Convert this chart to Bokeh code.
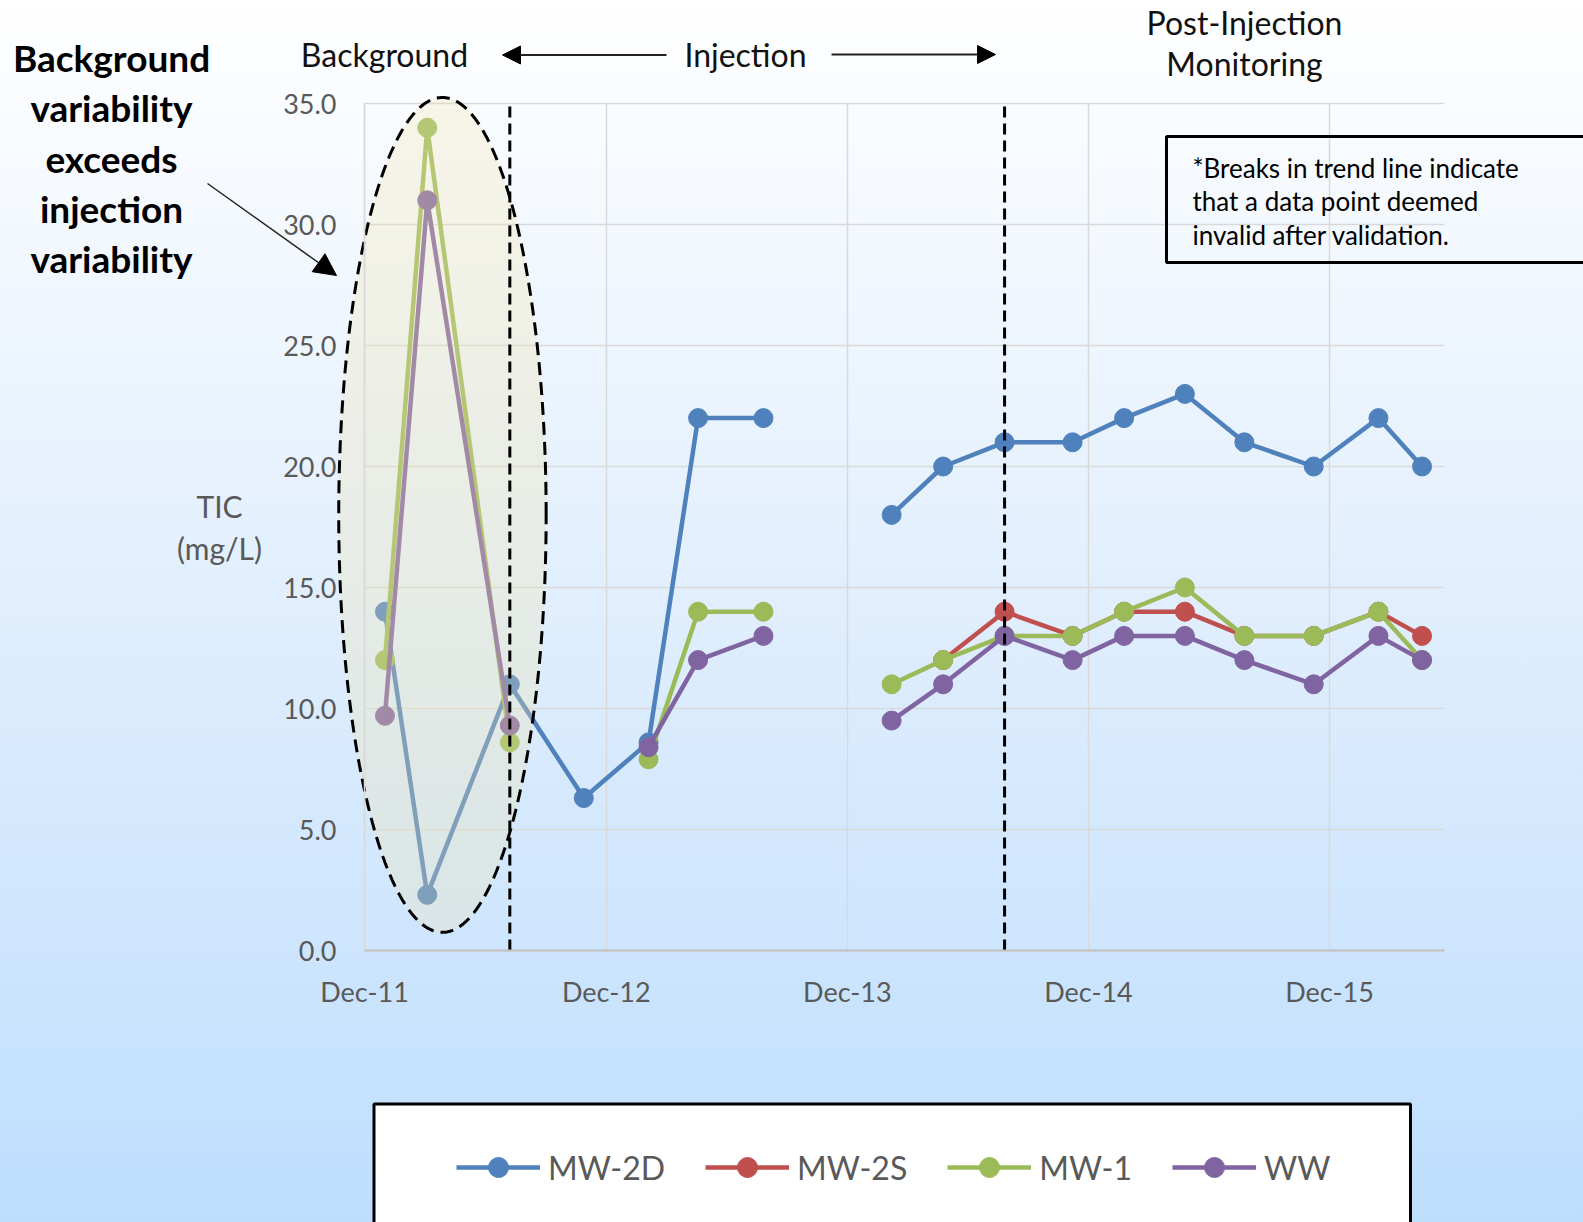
import numpy as np
from bokeh.plotting import figure
from bokeh.models import (FixedTicker, DatetimeTickFormatter, NumeralTickFormatter, Label, Arrow,
                          NormalHead, BoxAnnotation, Legend, LegendItem, ColumnDataSource)
from bokeh.embed import file_html
from bokeh.resources import INLINE

nan = np.nan

# Sampling events (the Nov-2013 event was invalidated, which breaks every trend line)
sample_dates = ["2012-01-01", "2012-03-05", "2012-07-08", "2012-10-28", "2013-02-03",
                "2013-04-19", "2013-07-27", "2013-11-01", "2014-02-06", "2014-04-25",
                "2014-07-27", "2014-11-07", "2015-01-24", "2015-04-26", "2015-07-25",
                "2015-11-07", "2016-02-13", "2016-04-19"]

# TIC concentrations, mg/L
mw_2d = [14.0, 2.3, 11.0, 6.3, 8.6, 22.0, 22.0, nan, 18.0, 20.0, 21.0, 21.0, 22.0, 23.0, 21.0, 20.0, 22.0, 20.0]
mw_2s = [nan, nan, nan, nan, nan, nan, nan, nan, nan, 12.0, 14.0, 13.0, 14.0, 14.0, 13.0, 13.0, 14.0, 13.0]
mw_1 = [12.0, 34.0, 8.6, nan, 7.9, 14.0, 14.0, nan, 11.0, 12.0, 13.0, 13.0, 14.0, 15.0, 13.0, 13.0, 14.0, 12.0]
ww = [9.7, 31.0, 9.3, nan, 8.4, 12.0, 13.0, nan, 9.5, 11.0, 13.0, 12.0, 13.0, 13.0, 12.0, 11.0, 13.0, 12.0]

series_names = ["MW-2D", "MW-2S", "MW-1", "WW"]
series_values = [mw_2d, mw_2s, mw_1, ww]
series_colors = ["#4F81BD", "#C0504D", "#9BBB59", "#8064A2"]

x_tick_dates = ["2011-12-01", "2012-12-01", "2013-12-01", "2014-12-01", "2015-12-01"]
y_ticks = [0, 5, 10, 15, 20, 25, 30, 35]
phase_boundaries = ["2012-07-08", "2014-07-27"]   # start of injection, start of post-injection
x_start_date, x_end_date = "2011-12-01", "2016-05-23"
y_min, y_max = 0.0, 35.0

# background-variability ellipse: centre date, half-width (days), centre value, half-height
ell_center_date, ell_half_days, ell_center_val, ell_half_val = "2012-03-28", 157.0, 18.0, 17.25


def ms(d):
    return float((np.datetime64(d) - np.datetime64("1970-01-01")) / np.timedelta64(1, "ms"))


# page geometry: the plotting area sits at (FL, FT) with size FW x FH inside a W x H canvas
W, H = 1583, 1222
FL, FT, FW, FH = 364, 103, 1080, 847
X0, X1 = ms(x_start_date), ms(x_end_date)


def dx(px):
    return X0 + (px - FL) / FW * (X1 - X0)


def dy(py):
    return y_min + (y_max - y_min) * (FT + FH - py) / FH


FONT = "Lato"
GREY = "#595959"

p = figure(width=W, height=H, x_axis_type="datetime", output_backend="svg", toolbar_location=None,
           x_range=(dx(0), dx(W)), y_range=(dy(H), dy(0)), min_border=0)
p.styles = {"background": "linear-gradient(to bottom, #ffffff 0%, #e0eefd 50%, #bedefe 100%)"}
p.background_fill_color = None
p.border_fill_color = None
p.outline_line_color = None

# axes pinned to the plotting area
p.xaxis.fixed_location = y_min
p.yaxis.fixed_location = X0
p.xaxis.bounds = (X0, X1)
p.yaxis.bounds = (y_min, y_max)
p.xaxis.ticker = FixedTicker(ticks=[ms(d) for d in x_tick_dates])
p.xaxis.formatter = DatetimeTickFormatter(days="%b-%y", months="%b-%y", years="%b-%y")
p.yaxis.ticker = FixedTicker(ticks=y_ticks)
p.yaxis.formatter = NumeralTickFormatter(format="0.0")
for ax in (p.xaxis[0], p.yaxis[0]):
    ax.major_tick_line_color = None
    ax.minor_tick_line_color = None
    ax.major_tick_in = 0
    ax.major_tick_out = 0
    ax.major_label_text_font = FONT
    ax.major_label_text_font_size = "27px"
    ax.major_label_text_color = GREY
p.xaxis.major_label_standoff = 24
p.yaxis.major_label_standoff = 28
p.xaxis.axis_line_color = "#bfbfbf"
p.xaxis.axis_line_width = 2
p.yaxis.axis_line_color = "#d9d9d9"
p.yaxis.axis_line_width = 1.5
p.grid.grid_line_color = "#d9d9d9"
p.grid.grid_line_width = 1.5
p.xgrid.bounds = (X0, X1)
p.xgrid.cross_bounds = (y_min, y_max)
p.ygrid.bounds = (y_min, y_max)
p.ygrid.cross_bounds = (X0, X1)

# series
src = ColumnDataSource({"date": [ms(d) for d in sample_dates],
                        **{n: np.array(v, dtype=float) for n, v in zip(series_names, series_values)}})
items = []
for name, color in zip(series_names, series_colors):
    lr = p.line("date", name, source=src, line_color=color, line_width=4.5)
    sr = p.scatter("date", name, source=src, size=19, fill_color=color, line_color=color)
    items.append(LegendItem(label=name, renderers=[lr, sr]))

# background-variability ellipse (washes over the early samples)
t = np.linspace(0, 2 * np.pi, 240)
ell_x = ms(ell_center_date) + ell_half_days * 86400000.0 * np.cos(t)
ell_y = ell_center_val + ell_half_val * np.sin(t)
p.patch(ell_x, ell_y, fill_color="#f3e6b4", fill_alpha=0.3, line_color="black",
        line_width=3, line_dash="13 7")

# phase boundaries
bx = [ms(d) for d in phase_boundaries]
p.segment(x0=bx, y0=[y_min] * len(bx), x1=bx, y1=[y_max] * len(bx),
          line_color="black", line_width=3, line_dash="11 6")

# axis title
for txt, py in (("TIC", 505), ("(mg/L)", 547)):
    p.add_layout(Label(x=dx(219), y=dy(py), text=txt, text_align="center", text_baseline="middle",
                       text_font=FONT, text_font_size="30px", text_color=GREY))

# phase headings
for txt, px, py in (("Background", 384, 54), ("Injection", 745, 54),
                    ("Post-Injection", 1244, 22), ("Monitoring", 1244, 63)):
    p.add_layout(Label(x=dx(px), y=dy(py), text=txt, text_align="center", text_baseline="middle",
                       text_font=FONT, text_font_size="32px", text_color="#111111"))

p.add_layout(Arrow(x_start=dx(666), y_start=dy(54.5), x_end=dx(502), y_end=dy(54.5),
                   line_color="#222222", line_width=2,
                   end=NormalHead(size=18, fill_color="black", line_color="black")))
p.add_layout(Arrow(x_start=dx(831), y_start=dy(54), x_end=dx(995), y_end=dy(54),
                   line_color="#222222", line_width=2,
                   end=NormalHead(size=18, fill_color="black", line_color="black")))

# callout
for i, txt in enumerate(["Background", "variability", "exceeds", "injection", "variability"]):
    p.add_layout(Label(x=dx(111), y=dy(57 + 50.25 * i), text=txt, text_align="center",
                       text_baseline="middle", text_font=FONT, text_font_size="37px",
                       text_font_style="bold", text_color="black"))
p.add_layout(Arrow(x_start=dx(207), y_start=dy(183), x_end=dx(336), y_end=dy(275),
                   line_color="#222222", line_width=1.5,
                   end=NormalHead(size=22, fill_color="black", line_color="black")))

# note box
p.add_layout(BoxAnnotation(left=dx(1166), right=dx(1600), top=dy(136), bottom=dy(262),
                           fill_alpha=0, line_color="black", line_alpha=1, line_width=3))
for i, txt in enumerate(["*Breaks in trend line indicate", "that a data point deemed",
                         "invalid after validation."]):
    p.add_layout(Label(x=dx(1192), y=dy(167 + 33.5 * i), text=txt, text_align="left",
                       text_baseline="middle", text_font=FONT, text_font_size="26px",
                       text_color="black"))

# legend
p.add_layout(BoxAnnotation(left=dx(373.5), right=dx(1410), top=dy(1103.5), bottom=dy(1340),
                           fill_color="white", fill_alpha=1, line_color="black", line_alpha=1,
                           line_width=3))
legend = Legend(items=items, orientation="horizontal", location=(456, 30),
                glyph_width=84, glyph_height=50, label_standoff=8, spacing=40, padding=0, margin=0,
                border_line_color=None, background_fill_alpha=0,
                label_text_font=FONT, label_text_font_size="32px", label_text_color=GREY)
p.add_layout(legend)

open("out.html", "w").write(file_html(p, INLINE))
